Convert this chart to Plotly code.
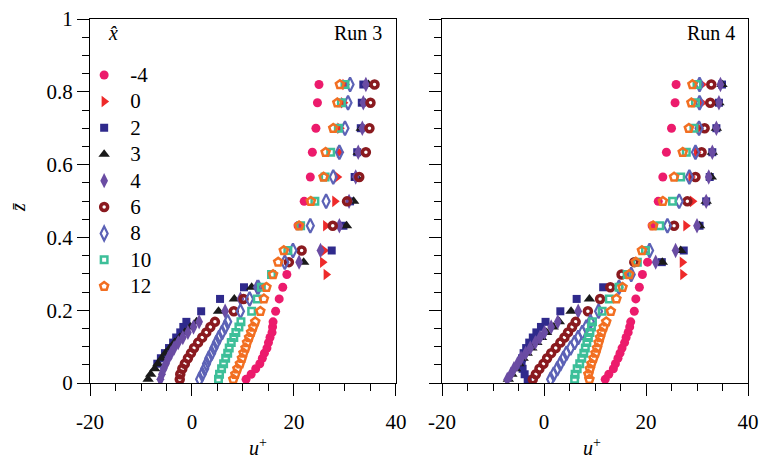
import plotly.graph_objects as go

# ---------------- data ----------------
# common measurement heights z-bar
Z = [0.010, 0.024, 0.039, 0.053, 0.068, 0.082, 0.096, 0.111, 0.125, 0.139, 0.154, 0.168,
     0.197, 0.231, 0.263, 0.298, 0.332, 0.364, 0.432, 0.499, 0.566, 0.634, 0.700, 0.770, 0.820]

SERIES_NAMES = ["-4", "0", "2", "3", "4", "6", "8", "10", "12"]

X_TICKS = [-20, 0, 20, 40]
X_TICK_TEXT = ["-20", "0", "20", "40"]
Y_TICKS = [0, 0.2, 0.4, 0.6, 0.8, 1]
Y_TICK_TEXT = ["0", "0.2", "0.4", "0.6", "0.8", "1"]
PANEL_TITLES = ["Run 3", "Run 4"]

N = None
# ---- Run 3 (left panel): u+ values at the heights in Z ----
RUN3_M4 = [10.6, 11.6, 12.5, 13.3, 13.8, 14.2, 14.7, 15.0, 15.3, 15.7, 15.8, 15.9,
           16.4, 17.1, 17.8, 18.6, N, N, 20.8, 22.0, 23.2, 23.6, 24.3, 24.6, 24.9]
RUN3_0 = [N, N, N, N, N, N, N, N, N, N, N, N,
          N, N, N, 26.3, 25.6, 25.9, 26.2, 28.0, 28.5, 28.9, 29.0, 29.7, 30.0]
RUN3_2 = [N, N, N, -6.8, -6.1, -5.3, -4.5, -3.7, -3.1, -2.3, -1.7, -1.1,
          1.8, 5.5, 10.2, N, N, 27.4, 29.7, 31.0, 31.9, 32.4, 33.1, 33.3, 33.6]
RUN3_3 = [-8.6, -8.1, -7.3, -6.7, -5.9, -5.2, -4.3, -3.4, -2.4, -1.4, -0.3, 0.9,
          5.2, 8.3, 11.7, N, 21.9, N, 30.3, 31.7, 32.3, 32.6, 33.2, 33.9, 34.6]
RUN3_4 = [-6.2, -5.9, -5.55, -5.1, -4.65, -4.1, -3.5, -2.7, -1.8, -0.8, 0.3, 1.4,
          6.5, 9.5, 12.7, N, 21.0, 25.2, 28.9, 30.8, 32.1, 32.6, 33.4, 33.6, 34.1]
RUN3_6 = [-2.4, -2.3, -1.9, -1.4, -0.8, -0.2, 0.4, 1.2, 2.0, 2.8, 3.6, 4.5,
          8.2, 10.1, N, N, 19.0, 21.5, 27.6, 30.4, 32.8, 34.1, 34.8, 35.0, 35.8]
RUN3_8 = [1.5, 2.0, 2.5, 2.85, 3.3, 3.85, 4.3, 4.8, 5.3, 5.9, 6.5, 7.0,
          9.5, 11.3, 13.0, N, 18.2, 19.8, 23.2, 26.3, 27.7, 28.9, 30.0, 30.6, 31.0]
RUN3_10 = [5.2, 5.4, 5.8, 6.2, 6.6, 7.0, 7.3, 7.7, 8.2, 8.6, 9.2, 9.6,
           11.7, 12.8, 13.6, 15.6, N, 18.8, 21.3, 24.1, 26.1, 27.2, 28.7, 29.3, 30.0]
RUN3_12 = [8.1, 8.5, 8.9, 9.4, 9.8, 10.1, 10.5, 10.8, 11.2, 11.6, 12.0, 12.4,
           13.4, 14.1, 14.6, 15.9, 16.9, 18.0, 21.0, 23.3, 25.8, 26.2, 27.7, 28.5, 29.0]

# ---- Run 4 (right panel) ----
RUN4_M4 = [12.0, 12.7, 13.6, 14.0, 14.5, 14.9, 15.3, 15.8, 16.1, 16.5, 16.8, 17.0,
           17.7, 18.0, 18.7, 19.3, 20.3, N, 21.2, 22.4, 23.3, 24.0, 25.0, 25.7, 25.9]
RUN4_0 = [N, N, N, N, N, N, N, N, N, N, N, N,
          N, N, N, 27.2, 27.1, N, 27.8, 29.1, 28.8, 29.9, 30.4, 31.0, 31.0]
RUN4_2 = [-3.2, -3.8, -4.2, -4.4, -4.3, -4.0, -3.5, -2.9, -2.2, -1.5, -0.6, 0.3,
          3.2, 6.4, 11.6, N, 23.1, 27.4, 30.5, 31.8, 32.5, 33.0, 33.8, 34.3, 34.9]
RUN4_3 = [-7.0, -6.3, -5.6, -4.9, -4.1, -3.3, -2.4, -1.4, -0.5, 0.5, 1.8, 3.0,
          5.3, 8.9, N, N, 23.2, 26.8, 30.5, 31.8, 32.8, 33.0, 33.8, 34.3, 34.9]
RUN4_4 = [-7.2, -6.5, -5.9, -5.2, -4.5, -3.6, -2.7, -1.7, -0.8, 0.1, 1.4, 2.7,
          6.7, N, N, N, 21.9, 25.8, 30.0, 31.8, 32.3, 33.0, 33.8, 34.3, 34.6]
RUN4_6 = [-2.2, -1.6, -0.9, -0.1, 0.6, 1.4, 2.3, 3.2, 4.0, 4.7, 5.5, 6.2,
          8.6, 11.0, 13.0, 15.2, 17.7, N, 25.5, 28.1, 29.7, 30.9, 31.5, 32.6, 32.8]
RUN4_8 = [1.3, 1.9, 2.6, 3.2, 3.8, 4.4, 5.2, 6.0, 6.7, 7.5, 8.3, 9.1,
          10.7, N, 14.7, 17.1, N, 20.7, 24.2, 26.5, 28.5, 29.7, 30.4, 30.5, 30.5]
RUN4_10 = [6.0, 6.1, 6.5, 7.0, 7.4, 7.8, 8.1, 8.4, 8.7, 9.0, 9.3, 9.5,
           11.4, 12.8, 14.7, 16.3, 18.3, 19.9, 22.7, 25.2, 26.8, 27.9, 29.4, 29.7, 30.0]
RUN4_12 = [8.9, 8.7, 9.0, 9.3, 9.7, 10.1, 10.4, 10.7, 11.0, 11.3, 11.7, 12.2,
           13.1, 14.2, 15.4, 16.7, 18.0, 19.2, 21.4, 23.3, 25.5, 27.2, 28.4, 28.9, 29.1]

RUN3 = [RUN3_M4, RUN3_0, RUN3_2, RUN3_3, RUN3_4, RUN3_6, RUN3_8, RUN3_10, RUN3_12]
RUN4 = [RUN4_M4, RUN4_0, RUN4_2, RUN4_3, RUN4_4, RUN4_6, RUN4_8, RUN4_10, RUN4_12]

# ---------------- styles ----------------
MARKERS = [
    dict(symbol="circle", size=9, color="#EC1B6C", line=dict(width=0)),
    dict(symbol="triangle-right", size=10, color="#EE2A2A", line=dict(width=0)),
    dict(symbol="square", size=8, color="#2F2A8C", line=dict(width=0)),
    dict(symbol="triangle-up", size=10, color="#1A1A1A", line=dict(width=0)),
    dict(symbol="diamond-tall", size=11, color="#6A4CA3", line=dict(width=0)),
    dict(symbol="circle-open", size=7, color="#8A1A1F", line=dict(width=3.5, color="#8A1A1F")),
    dict(symbol="diamond-tall-open", size=10, color="#5C62B6", line=dict(width=2.2, color="#5C62B6")),
    dict(symbol="square-open", size=6.5, color="#3DBF99", line=dict(width=2.5, color="#3DBF99")),
    dict(symbol="pentagon-open", size=8.5, color="#F26F22", line=dict(width=2.5, color="#F26F22")),
]

FONT = "Liberation Serif, Times New Roman, DejaVu Serif, serif"

fig = go.Figure()
for panel, (runs, xa, ya) in enumerate([(RUN3, "x", "y"), (RUN4, "x2", "y2")]):
    for name, u, mk in zip(SERIES_NAMES, runs, MARKERS):
        fig.add_trace(go.Scatter(
            x=u, y=Z, mode="markers",
            name='<span style="font-size:21px">' + name + "</span>",
            marker=mk, xaxis=xa, yaxis=ya, showlegend=(panel == 0),
        ))

axis_common = dict(
    showline=True, linecolor="black", linewidth=1.2, mirror=True,
    ticks="outside", ticklen=12, tickwidth=1.2, tickcolor="black",
    showgrid=False, zeroline=False, ticklabeloverflow="allow",
    tickfont=dict(family=FONT, size=21, color="black"),
)
xminor = dict(tickmode="array", tickvals=[v for v in range(-20, 41, 5)],
              ticks="outside", ticklen=7, tickwidth=1.2, tickcolor="black", showgrid=False)
yminor = dict(tickmode="array", tickvals=[i * 0.05 for i in range(21)],
              ticks="outside", ticklen=7, tickwidth=1.2, tickcolor="black", showgrid=False)

fig.update_layout(
    width=762, height=460,
    margin=dict(l=90, r=14, t=19, b=77, autoexpand=False),
    paper_bgcolor="white", plot_bgcolor="white",
    font=dict(family=FONT, size=21, color="black"),
    xaxis=dict(domain=[0, 0.465], range=[-20, 40], tickmode="array",
               tickvals=X_TICKS, ticktext=X_TICK_TEXT, minor=xminor,
               ticklabelstandoff=8, **axis_common),
    xaxis2=dict(domain=[0.535, 1], range=[-20, 40], tickmode="array", anchor="y2",
                tickvals=X_TICKS, ticktext=X_TICK_TEXT, minor=xminor,
                ticklabelstandoff=8, **axis_common),
    yaxis=dict(domain=[0, 1], range=[0, 1], tickmode="array",
               tickvals=Y_TICKS, ticktext=Y_TICK_TEXT, minor=yminor, **axis_common),
    yaxis2=dict(domain=[0, 1], range=[0, 1], tickmode="array", anchor="x2",
                tickvals=Y_TICKS, ticktext=Y_TICK_TEXT, showticklabels=False,
                minor=yminor, **axis_common),
    legend=dict(x=-0.018, y=0.896, xanchor="left", yanchor="top",
                bgcolor="rgba(0,0,0,0)", font=dict(family=FONT, size=18),
                itemwidth=42, tracegroupgap=0),
    showlegend=True,
)

ann = [
    dict(text="<i>u</i><sup>+</sup>", x=0.2553, y=-0.176),
    dict(text="<i>u</i><sup>+</sup>", x=0.763, y=-0.176),
    dict(text="<i>z̄</i>", x=-0.1094, y=0.481, textangle=-90),
    dict(text="<i>x̂</i>", x=0.035, y=0.9615),
]
for a in ann:
    fig.add_annotation(xref="paper", yref="paper", showarrow=False,
                       xanchor="center", yanchor="middle",
                       font=dict(family=FONT, size=20, color="black"), **a)
fig.add_annotation(xref="paper", yref="paper", showarrow=False, x=0.4468, y=0.9615,
                   xanchor="right", yanchor="middle", text=PANEL_TITLES[0],
                   font=dict(family=FONT, size=20, color="black"))
fig.add_annotation(xref="paper", yref="paper", showarrow=False, x=0.983, y=0.9615,
                   xanchor="right", yanchor="middle", text=PANEL_TITLES[1],
                   font=dict(family=FONT, size=20, color="black"))

# remove the browser's default 8 px page margin so the figure sits at (0, 0)
fig.write_html("out.html", config={"displayModeBar": False},
               post_script="document.body.style.margin='0';document.body.style.overflow='hidden';")
